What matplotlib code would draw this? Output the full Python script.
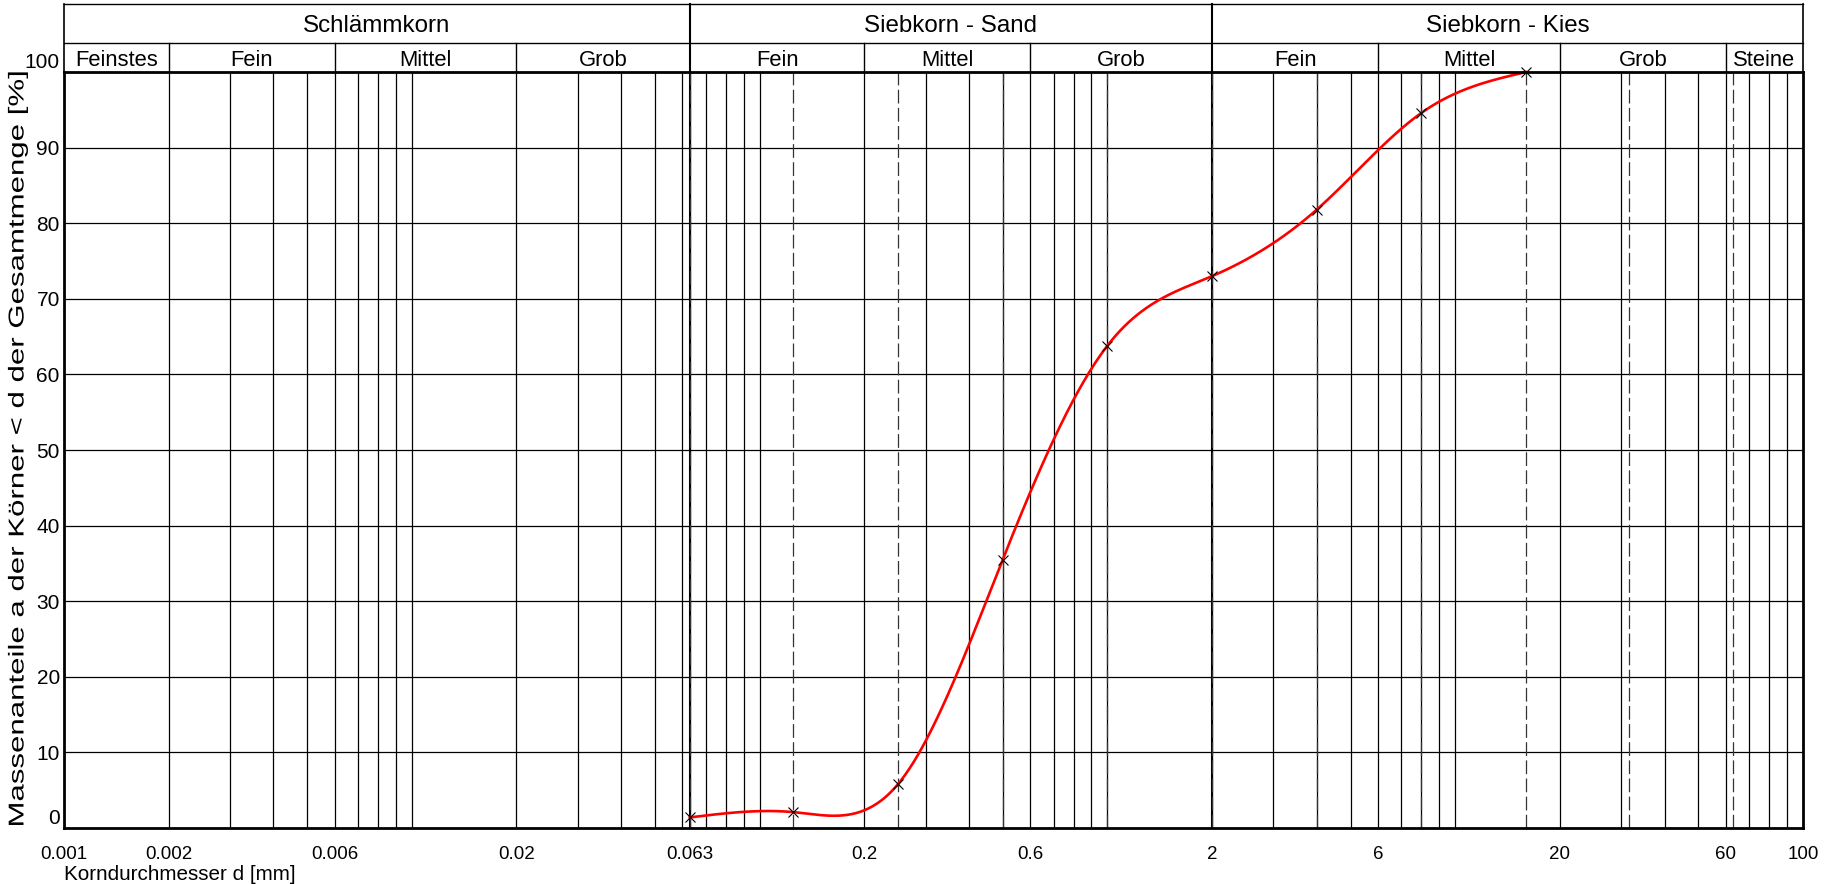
import numpy as np
import matplotlib
matplotlib.use("Agg")
import matplotlib.pyplot as plt
from matplotlib.transforms import ScaledTranslation, Affine2D
from matplotlib.patheffects import AbstractPathEffect

plt.rcParams['font.family'] = ['Liberation Sans', 'DejaVu Sans']

# ---- data ----
sieve_mm = [0.063, 0.125, 0.25, 0.5, 1.0, 2.0, 4.0, 8.0, 16.0]
passing_pct = [1.4, 2.1, 5.8, 35.5, 63.8, 73.0, 81.8, 94.6, 100.0]

x_tick_values = [0.001, 0.002, 0.006, 0.02, 0.063, 0.2, 0.6, 2, 6, 20, 60, 100]
x_tick_labels = ["0.001", "0.002", "0.006", "0.02", "0.063", "0.2", "0.6",
                 "2", "6", "20", "60", "100"]
y_tick_values = [0, 10, 20, 30, 40, 50, 60, 70, 80, 90, 100]
y_tick_labels = [str(v) for v in y_tick_values]

main_labels = ["Schlämmkorn", "Siebkorn - Sand", "Siebkorn - Kies"]
main_bounds = [0.001, 0.063, 2, 100]
sub_labels = ["Feinstes", "Fein", "Mittel", "Grob", "Fein", "Mittel", "Grob",
              "Fein", "Mittel", "Grob", "Steine"]
sub_bounds = [0.001, 0.002, 0.006, 0.02, 0.063, 0.2, 0.6, 2, 6, 20, 60, 100]
sieve_lines = [0.063, 0.125, 0.25, 0.5, 1, 2, 4, 8, 16, 31.5, 63]

x_label = "Korndurchmesser d [mm]"
y_label = "Massenanteile a der Körner < d der Gesamtmenge [%]"


def natural_cubic(xk, yk, xs):
    xk = np.asarray(xk, float)
    yk = np.asarray(yk, float)
    n = len(xk)
    h = np.diff(xk)
    A = np.zeros((n, n))
    r = np.zeros(n)
    A[0, 0] = 1
    A[-1, -1] = 1
    for i in range(1, n - 1):
        A[i, i - 1] = h[i - 1]
        A[i, i] = 2 * (h[i - 1] + h[i])
        A[i, i + 1] = h[i]
        r[i] = 3 * ((yk[i + 1] - yk[i]) / h[i] - (yk[i] - yk[i - 1]) / h[i - 1])
    c = np.linalg.solve(A, r)
    b = (yk[1:] - yk[:-1]) / h - h * (2 * c[:-1] + c[1:]) / 3
    d = (c[1:] - c[:-1]) / (3 * h)
    idx = np.clip(np.searchsorted(xk, xs) - 1, 0, n - 2)
    t = xs - xk[idx]
    return yk[idx] + b[idx] * t + c[idx] * t ** 2 + d[idx] * t ** 3


class Stretch(AbstractPathEffect):
    """Stretch rendered text about a display point (sx, sy factors)."""
    def __init__(self, cx, cy, sx, sy):
        super().__init__()
        self.st = Affine2D().translate(-cx, -cy).scale(sx, sy).translate(cx, cy)

    def draw_path(self, renderer, gc, tpath, affine, rgbFace=None):
        renderer.draw_path(gc, tpath, affine + self.st, rgbFace)


W, H = 1829, 884
fig = plt.figure(figsize=(W / 100, H / 100), dpi=100)
L, R, T, B = 64, 1803, 72, 828
ax = fig.add_axes([L / W, 1 - B / H, (R - L) / W, (B - T) / H])
ax.set_xscale('log')
ax.set_xlim(0.001, 100)
ax.set_ylim(0, 100)

# horizontal grid
for v in y_tick_values[1:-1]:
    ax.axhline(v, color='black', lw=0.9, zorder=1)

# vertical log grid
grid_x = []
for e in range(-3, 2):
    for m in range(1, 10):
        grid_x.append(m * 10.0 ** e)
grid_x.append(0.063)
for gx in grid_x:
    if 0.001 < gx < 100:
        ax.axvline(gx, color='black', lw=0.9, zorder=1)
for gx in main_bounds[1:-1]:
    ax.axvline(gx, color='black', lw=1.5, zorder=1)

# sieve (dashed) lines
for sx in sieve_lines:
    ax.axvline(sx, color='#333333', lw=0.9, dashes=(11, 3.5), zorder=1)

# curve
lx = np.log10(sieve_mm)
xs = np.linspace(lx[0], lx[-1], 600)
ys = natural_cubic(lx, passing_pct, xs)
ax.plot(10 ** xs, ys, color='red', lw=1.9, zorder=3, clip_on=False)
ax.plot(sieve_mm, passing_pct, linestyle='none', marker='x', color='black',
        ms=6.5, mew=0.8, zorder=4, clip_on=False)

# spines
for s in ['top', 'bottom', 'left', 'right']:
    ax.spines[s].set_linewidth(2.0)
    ax.spines[s].set_zorder(5)

# ticks
ax.set_xticks(x_tick_values)
ax.set_xticklabels(x_tick_labels, fontsize=13.5)
ax.xaxis.set_minor_locator(matplotlib.ticker.NullLocator())
ax.set_yticks(y_tick_values)
ax.set_yticklabels(y_tick_labels, fontsize=15)
ax.tick_params(axis='both', length=0)
ax.tick_params(axis='x', pad=13)
ax.tick_params(axis='y', pad=3)
up = ScaledTranslation(0, 11 / 100, fig.dpi_scale_trans)
ylabs = ax.get_yticklabels()
for lab in (ylabs[0], ylabs[-1]):
    lab.set_transform(lab.get_transform() + up)

# header
tr = ax.get_xaxis_transform()
ph = B - T
y_div = 1 + (T - 43) / ph
y_top = 1 + (T - 3.5) / ph
ax.plot([0.001, 100], [y_top, y_top], transform=tr, color='black', lw=1.0, clip_on=False)
ax.plot([0.001, 100], [y_div, y_div], transform=tr, color='black', lw=1.0, clip_on=False)
for bx in [main_bounds[0], main_bounds[-1]]:
    ax.plot([bx, bx], [1, y_top], transform=tr, color='black', lw=1.2, clip_on=False)
for bx in main_bounds[1:-1]:
    ax.plot([bx, bx], [1, y_top], transform=tr, color='black', lw=1.5, clip_on=False)
for bx in sub_bounds[1:-1]:
    if bx not in main_bounds:
        ax.plot([bx, bx], [1, y_div], transform=tr, color='black', lw=1.0, clip_on=False)

for i, lab in enumerate(main_labels):
    xc = np.sqrt(main_bounds[i] * main_bounds[i + 1])
    ax.text(xc, (y_div + y_top) / 2 - 2.5 / ph, lab, transform=tr, ha='center',
            va='center', fontsize=17.4)
for i, lab in enumerate(sub_labels):
    xc = np.sqrt(sub_bounds[i] * sub_bounds[i + 1])
    ax.text(xc, (1 + y_div) / 2 - 3.5 / ph, lab, transform=tr, ha='center',
            va='center', fontsize=15.8)

fig.text(L / W, 1 - 875 / H, x_label, ha='left', va='center', fontsize=14.9)
ylx, yly = 18, 450
fig.text(ylx / W, 1 - yly / H, y_label, rotation=90, ha='center', va='center',
         fontsize=15.5, path_effects=[Stretch(ylx, H - yly, 1.0, 1.45)])

fig.savefig("out.png", dpi=100)
